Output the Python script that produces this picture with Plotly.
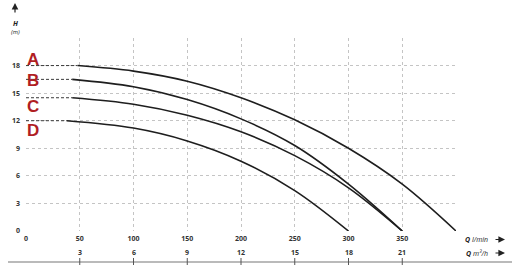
import plotly.graph_objects as go

# ---- data ----
q_a = [48, 100, 150, 200, 250, 300, 350, 400]
h_a = [18.0, 17.4, 16.3, 14.5, 12.1, 9.0, 5.1, 0.0]

q_b = [43, 100, 150, 200, 250, 300, 350]
h_b = [16.5, 15.7, 14.3, 12.2, 9.3, 5.1, 0.0]

q_c = [43, 100, 150, 200, 250, 300, 350]
h_c = [14.5, 13.8, 12.6, 10.8, 8.2, 4.7, 0.0]

q_d = [38, 100, 150, 200, 250, 300]
h_d = [12.0, 11.2, 9.8, 7.6, 4.4, 0.0]

curve_names = ["A", "B", "C", "D"]
x_ticks = [0, 50, 100, 150, 200, 250, 300, 350, 400]
x_tick_text = ["0", "50", "100", "150", "200", "250", "300", "350", ""]
y_ticks = [0, 3, 6, 9, 12, 15, 18, 21]
y_tick_text = ["0", "3", "6", "9", "12", "15", "18", ""]
q2_pos = [50, 100, 150, 200, 250, 300, 350]   # l/min
q2_text = ["3", "6", "9", "12", "15", "18", "21"]  # m3/h

curves = [(q_a, h_a), (q_b, h_b), (q_c, h_c), (q_d, h_d)]

fig = go.Figure()
for q, h in curves:
    fig.add_trace(go.Scatter(x=[0, q[0]], y=[h[0], h[0]], mode="lines",
                             line=dict(color="#3a3a3a", width=1, dash="3px,2px"),
                             hoverinfo="skip", showlegend=False))
    fig.add_trace(go.Scatter(x=q, y=h, mode="lines",
                             line=dict(color="#1e1e1e", width=1.6, shape="spline", smoothing=1.0),
                             showlegend=False))

RED = "#b01e23"
label_y = [18.7, 16.4, 13.5, 10.9]
for name, ly in zip(curve_names, label_y):
    fig.add_annotation(x=0, y=ly, xref="x", yref="y", text="<b>%s</b>" % name,
                       showarrow=False, xanchor="left", yanchor="middle", xshift=-1,
                       font=dict(family="Liberation Sans", size=17, color=RED))

# plot geometry in pixels
L, R, T, B = 26, 56, 38, 39
W, H = 512, 270
pw, ph = W - L - R, H - T - B

def px_to_paper_x(px):
    return (px - L) / pw

def py_to_paper_y(py):
    return (H - B - py) / ph

axis_font = dict(family="Open Sans", size=7, color="#333333", weight="bold")

# secondary Q axis (m3/h)
line_y = py_to_paper_y(262)
fig.add_shape(type="line", xref="paper", yref="paper",
              x0=px_to_paper_x(8), x1=px_to_paper_x(512), y0=line_y, y1=line_y,
              line=dict(color="#777777", width=1.2))
for qv, t in zip(q2_pos, q2_text):
    fig.add_shape(type="line", xref="x", yref="paper", x0=qv, x1=qv,
                  y0=py_to_paper_y(258), y1=py_to_paper_y(265),
                  line=dict(color="#555555", width=1))
    fig.add_annotation(x=qv, y=py_to_paper_y(252.5), xref="x", yref="paper", text=t,
                       showarrow=False, yanchor="middle", xanchor="center", font=axis_font)

# axis titles on the right
fig.add_annotation(x=px_to_paper_x(490), y=py_to_paper_y(239.5), xref="paper", yref="paper",
                   text="<b><i>Q</i></b> <i>l/min</i>", showarrow=False, xanchor="right",
                   yanchor="middle", font=dict(family="Open Sans", size=7, color="#222222"))
fig.add_annotation(x=px_to_paper_x(490), y=py_to_paper_y(253), xref="paper", yref="paper",
                   text="<b><i>Q</i></b> <i>m³/h</i>", showarrow=False, xanchor="right",
                   yanchor="middle", font=dict(family="Open Sans", size=7, color="#222222"))
for py in (239.5, 253):
    fig.add_annotation(x=px_to_paper_x(505), y=py_to_paper_y(py), xref="paper", yref="paper",
                       ax=-11, ay=0, axref="pixel", ayref="pixel", text="",
                       showarrow=True, arrowhead=2, arrowsize=1.1, arrowwidth=1.2,
                       arrowcolor="#222222")

# H axis title and arrow
fig.add_annotation(x=px_to_paper_x(15), y=py_to_paper_y(3), xref="paper", yref="paper",
                   ax=0, ay=11, text="", showarrow=True, arrowhead=2, arrowsize=1.1,
                   arrowwidth=1.2, arrowcolor="#222222")
fig.add_annotation(x=px_to_paper_x(15), y=py_to_paper_y(24), xref="paper", yref="paper",
                   text="<b><i>H</i></b>", showarrow=False, xanchor="center", yanchor="middle",
                   font=dict(family="Open Sans", size=7, color="#222222"))
fig.add_annotation(x=px_to_paper_x(15), y=py_to_paper_y(32), xref="paper", yref="paper",
                   text="<i>(m)</i>", showarrow=False, xanchor="center", yanchor="middle",
                   font=dict(family="Open Sans", size=6, color="#222222"))

grid = dict(showgrid=True, gridcolor="#c4c4c4", griddash="dot", gridwidth=1,
            zeroline=False, showline=False, ticks="", tickfont=axis_font)

fig.update_xaxes(range=[0, 400], tickmode="array", tickvals=x_ticks, ticktext=x_tick_text,
                 ticklabelstandoff=2, **grid)
fig.update_yaxes(range=[0, 21], tickmode="array", tickvals=y_ticks, ticktext=y_tick_text,
                 ticklabelstandoff=5, **grid)

fig.update_layout(width=W, height=H, margin=dict(l=L, r=R, t=T, b=B, pad=0),
                  paper_bgcolor="white", plot_bgcolor="white", showlegend=False)

fig.write_html("out.html")
